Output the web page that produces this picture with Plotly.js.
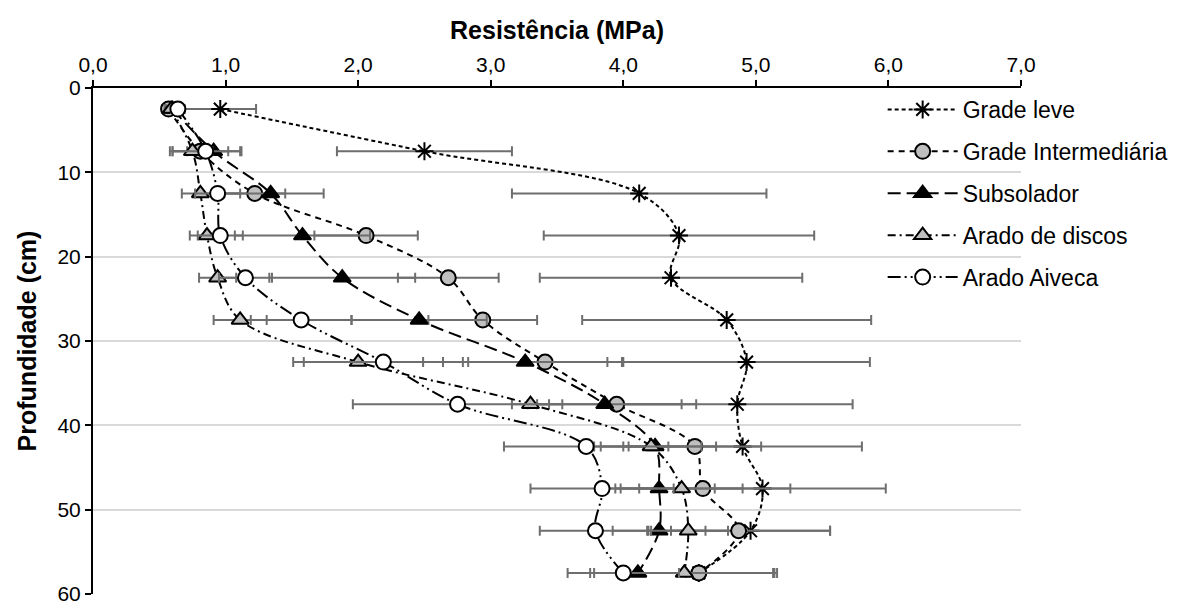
<!DOCTYPE html>
<html>
<head>
<meta charset="utf-8">
<script src="https://cdn.plot.ly/plotly-3.0.1.min.js"></script>
<style>html,body{margin:0;padding:0;background:#fff;}#chart{width:1184px;height:606px;}</style>
</head>
<body>
<div id="chart"></div>
<script>
const depths = [2.5, 7.5, 12.5, 17.5, 22.5, 27.5, 32.5, 37.5, 42.5, 47.5, 52.5, 57.5];
const seriesNames = ["Grade leve", "Grade Intermediária", "Subsolador", "Arado de discos", "Arado Aiveca"];

const gradeLeve = [0.96, 2.50, 4.12, 4.42, 4.36, 4.78, 4.93, 4.86, 4.90, 5.05, 4.96, 4.57];
const gradeLeveErr = [0.27, 0.66, 0.96, 1.02, 0.99, 1.09, 0.93, 0.87, 0.90, 0.93, 0.60, 0.56];

const gradeInter = [0.57, 0.81, 1.22, 2.06, 2.68, 2.94, 3.41, 3.95, 4.54, 4.60, 4.87, 4.57];
const gradeInterErr = [0.05, 0.21, 0.23, 0.39, 0.38, 0.41, 0.58, 0.60, 0.50, 0.66, 0.69, 0.59];

const subsolador = [0.60, 0.91, 1.34, 1.58, 1.88, 2.46, 3.26, 3.86, 4.24, 4.27, 4.27, 4.11];
const subsoladorErr = [0.05, 0.20, 0.40, 0.51, 0.55, 0.51, 0.62, 0.58, 0.46, 0.42, 0.35, 0.36];

const aradoDiscos = [0.59, 0.75, 0.81, 0.86, 0.94, 1.11, 2.00, 3.30, 4.21, 4.44, 4.49, 4.46];
const aradoDiscosErr = [0.05, 0.15, 0.14, 0.13, 0.14, 0.20, 0.49, 0.14, 0.38, 0.46, 0.30, 0.68];

const aradoAiveca = [0.64, 0.85, 0.94, 0.96, 1.15, 1.57, 2.19, 2.75, 3.72, 3.84, 3.79, 4.00];
const aradoAivecaErr = [0.05, 0.27, 0.17, 0.17, 0.20, 0.38, 0.60, 0.79, 0.62, 0.54, 0.42, 0.42];

const xTickVals = [0, 1, 2, 3, 4, 5, 6, 7];
const yTickVals = [0, 10, 20, 30, 40, 50, 60];

const FONT = "Liberation Sans, Arial, sans-serif";
const ERRC = "#6e6e6e";

function mk(name, xs, errs, dash, symbol, fill, group) {
  return {
    type: "scatter", mode: "lines+markers", name: name,
    x: xs, y: depths, legendgroup: group,
    line: {color: "#000", width: 2, dash: dash, shape: "spline", smoothing: 1},
    marker: {symbol: symbol, size: 15, color: fill, line: {color: "#000", width: 2}},
    error_x: {type: "data", array: errs, visible: true, color: ERRC, thickness: 2, width: 5}
  };
}

const data = [
  mk(seriesNames[0], gradeLeve, gradeLeveErr, "4px,3px", "asterisk-open", "#000", "g1"),
  mk(seriesNames[1], gradeInter, gradeInterErr, "6px,5px", "circle", "#bfbfbf", "g2"),
  mk(seriesNames[2], subsolador, subsoladorErr, "13px,6px", "triangle-up", "#000", "g3"),
  mk(seriesNames[3], aradoDiscos, aradoDiscosErr, "8px,4px,2px,4px", "triangle-up", "#bfbfbf", "g4"),
  mk(seriesNames[4], aradoAiveca, aradoAivecaErr, "13px,4px,2px,4px,2px,4px", "circle", "#ffffff", "g5")
];

const layout = {
  width: 1184, height: 606,
  paper_bgcolor: "#fff", plot_bgcolor: "#fff",
  separators: ",.",
  margin: {l: 93, r: 162, t: 88, b: 12},
  font: {family: FONT, color: "#000", size: 21},
  showlegend: true,
  legend: {
    x: 0.85, xanchor: "left", y: 1.0, yanchor: "top",
    bgcolor: "rgba(0,0,0,0)", font: {family: FONT, size: 23, color: "#000"},
    itemwidth: 70, traceorder: "grouped", tracegroupgap: 9
  },
  xaxis: {
    side: "top", range: [0, 7], tickvals: xTickVals, tickformat: ".1f",
    showline: true, linecolor: "#000", linewidth: 2, mirror: false,
    ticks: "outside", ticklen: 6, tickwidth: 2, tickcolor: "#000",
    showgrid: false, zeroline: false,
    tickfont: {family: FONT, size: 21, color: "#000"},
    title: {text: "<b>Resistência (MPa)</b>", font: {family: FONT, size: 25, color: "#000"}, standoff: 6}
  },
  yaxis: {
    range: [60, 0], tickvals: yTickVals,
    showline: true, linecolor: "#000", linewidth: 2,
    ticks: "outside", ticklen: 6, tickwidth: 2, tickcolor: "#000",
    showgrid: true, gridcolor: "#d9d9d9", gridwidth: 2, zeroline: false,
    tickfont: {family: FONT, size: 21, color: "#000"},
    title: {text: "<b>Profundidade (cm)</b>", font: {family: FONT, size: 25, color: "#000"}, standoff: 14}
  }
};

Plotly.newPlot("chart", data, layout, {displayModeBar: false, staticPlot: true});
</script>
</body>
</html>
